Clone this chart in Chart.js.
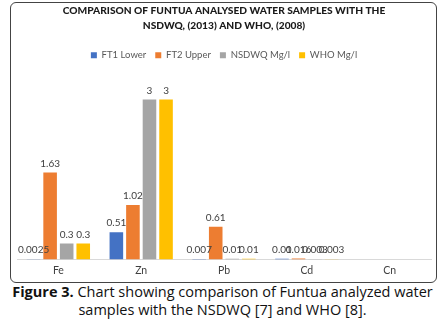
<!DOCTYPE html>
<html>
<head>
<meta charset="utf-8">
<script src="https://cdn.jsdelivr.net/npm/chart.js@4"></script>
<style>
  body { margin: 0; background: #fff; font-family: "Open Sans", sans-serif; }
  #box {
    position: absolute; left: 10px; top: 2px; width: 425px; height: 279px;
    border: 1px solid #444; border-radius: 6px; background: #fff;
  }
  #caption {
    position: absolute; left: 0; top: 283px; width: 445px;
    text-align: center; font-size: 14.5px; line-height: 18px; color: #111;
  }
</style>
</head>
<body>
<div id="box"><canvas id="myChart" width="425" height="279"></canvas></div>
<div id="caption"><b>Figure 3.</b> Chart showing comparison of Funtua analyzed water<br>samples with the NSDWQ [7] and WHO [8].</div>
<script>
// Metals on the x axis
const metals = ["Fe", "Zn", "Pb", "Cd", "Cn"];

// Values per series (mg/l), null where nothing was reported
const ft1Lower = [0.0025, 0.51, 0.007, 0.01, null];
const ft2Upper = [1.63, 1.02, 0.61, 0.016, null];
const nsdwq = [0.3, 3, 0.01, 0.003, null];
const who = [0.3, 3, 0.01, 0.003, null];

// Writes the value above each bar
const valueLabels = {
  id: "valueLabels",
  afterDatasetsDraw(chart) {
    const ctx = chart.ctx;
    ctx.save();
    ctx.font = "10px Lato, sans-serif";
    ctx.fillStyle = "#404040";
    ctx.textAlign = "center";
    ctx.textBaseline = "bottom";
    chart.data.datasets.forEach((ds, i) => {
      chart.getDatasetMeta(i).data.forEach((bar, j) => {
        const v = ds.data[j];
        if (v === null) return;
        ctx.fillText(String(v), bar.x, bar.y - 4);
      });
    });
    ctx.restore();
  },
};

const ctx = document.getElementById("myChart").getContext("2d");
new Chart(ctx, {
  type: "bar",
  data: {
    labels: metals,
    datasets: [
      { label: "FT1 Lower", data: ft1Lower, backgroundColor: "#4472C4" },
      { label: "FT2 Upper", data: ft2Upper, backgroundColor: "#ED7D31" },
      { label: "NSDWQ Mg/l", data: nsdwq, backgroundColor: "#A5A5A5" },
      { label: "WHO Mg/l", data: who, backgroundColor: "#FFC000" },
    ],
  },
  options: {
    responsive: false,
    animation: false,
    layout: { padding: { left: 6, right: 5, top: 0, bottom: 0 } },
    categoryPercentage: 0.8,
    barPercentage: 0.82,
    plugins: {
      title: {
        display: true,
        text: ["COMPARISON OF FUNTUA ANALYSED WATER SAMPLES WITH THE", "NSDWQ, (2013) AND WHO, (2008)"],
        color: "#1a1a1a",
        font: { family: "Lato, sans-serif", size: 10.2, weight: "900", lineHeight: 1.5 },
        padding: { top: 0, bottom: 8 },
      },
      legend: {
        position: "top",
        labels: {
          boxWidth: 6,
          boxHeight: 6,
          padding: 9,
          color: "#595959",
          font: { family: "Lato, sans-serif", size: 9.5 },
        },
      },
      tooltip: { enabled: false },
    },
    scales: {
      x: {
        grid: { display: false, drawTicks: false },
        border: { color: "#d9d9d9" },
        ticks: { color: "#404040", font: { family: "Lato, sans-serif", size: 10.5 }, padding: 5 },
      },
      y: {
        display: false,
        min: 0,
        max: 3.55,
      },
    },
  },
  plugins: [valueLabels],
});
</script>
</body>
</html>
